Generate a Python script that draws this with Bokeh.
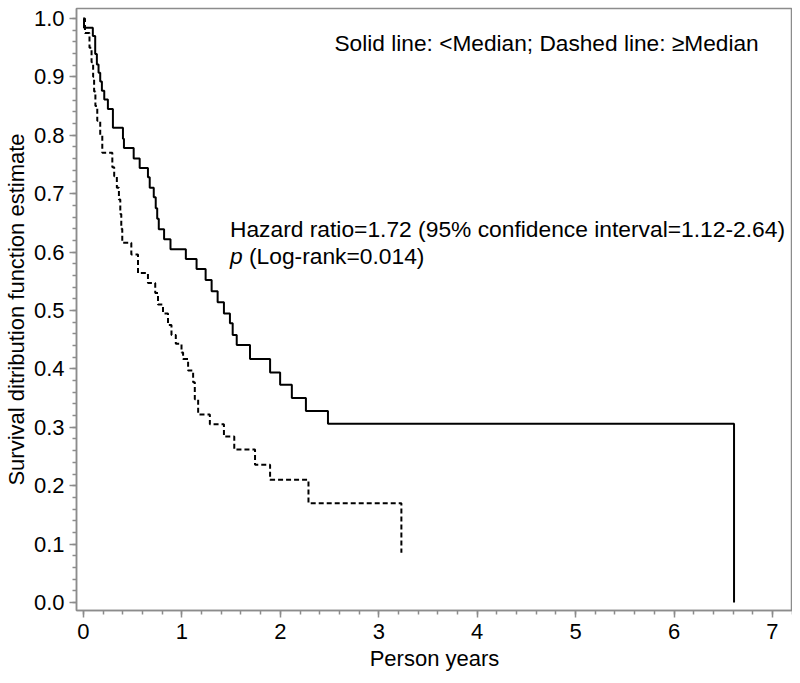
from bokeh.plotting import figure
from bokeh.models import Range1d, Label, SingleIntervalTicker, CustomJSTickFormatter
from bokeh.embed import file_html
from bokeh.resources import INLINE

# Kaplan-Meier estimates
times_lt = [0.0, 0.005, 0.095, 0.119, 0.136, 0.153, 0.170, 0.187, 0.211, 0.248,
            0.299, 0.401, 0.411, 0.510, 0.571, 0.655, 0.673, 0.714, 0.734, 0.749,
            0.765, 0.819, 0.884, 1.040, 1.149, 1.241, 1.302, 1.363, 1.427, 1.488,
            1.516, 1.557, 1.692, 1.896, 1.998, 2.117, 2.260, 2.484, 6.61]
surv_lt = [1.0, 0.984, 0.970, 0.939, 0.921, 0.907, 0.892, 0.876, 0.861, 0.845,
           0.813, 0.794, 0.778, 0.760, 0.744, 0.728, 0.710, 0.694, 0.675, 0.657,
           0.639, 0.622, 0.605, 0.588, 0.571, 0.552, 0.533, 0.514, 0.495, 0.478,
           0.458, 0.441, 0.417, 0.394, 0.373, 0.350, 0.328, 0.306, 0.0]

times_ge = [0.0, 0.015, 0.061, 0.082, 0.098, 0.108, 0.121, 0.140, 0.170, 0.191,
            0.293, 0.312, 0.339, 0.360, 0.374, 0.384, 0.394, 0.486, 0.554, 0.655,
            0.729, 0.757, 0.808, 0.859, 0.894, 0.938, 0.996, 1.012, 1.063, 1.114,
            1.131, 1.165, 1.284, 1.427, 1.532, 1.743, 1.896, 2.286, 3.23]
surv_ge = [1.0, 0.975, 0.95, 0.925, 0.90, 0.875, 0.85, 0.825, 0.80, 0.77,
           0.745, 0.73, 0.71, 0.69, 0.665, 0.64, 0.616, 0.596, 0.564, 0.547,
           0.53, 0.51, 0.495, 0.475, 0.458, 0.443, 0.428, 0.417, 0.397, 0.377,
           0.348, 0.322, 0.305, 0.284, 0.262, 0.236, 0.21, 0.17, 0.085]

x_label = "Person years"
y_label = "Survival ditribution function estimate"
legend_note = "Solid line: <Median; Dashed line: \u2265Median"
hr_note = "Hazard ratio=1.72 (95% confidence interval=1.12-2.64)"
p_note_italic = "p"
p_note_rest = "(Log-rank=0.014)"

FONT = "Liberation Sans"
GRAY = "#8c8c8c"

p = figure(width=792, height=673, output_backend="svg", toolbar_location=None,
           x_range=Range1d(-0.071, 7.204), y_range=Range1d(-0.0137, 1.017),
           min_border_left=68, min_border_right=0, min_border_top=8, min_border_bottom=51)

p.step(times_lt, surv_lt, mode="after", line_color="black", line_width=2)
p.step(times_ge, surv_ge, mode="after", line_color="black", line_width=2, line_dash="5 3")

p.xgrid.visible = False
p.ygrid.visible = False
p.outline_line_color = GRAY
p.outline_line_width = 1.5
p.background_fill_color = "white"
p.border_fill_color = "white"

p.xaxis.ticker = SingleIntervalTicker(interval=1, num_minor_ticks=5)
p.yaxis.ticker = SingleIntervalTicker(interval=0.1, num_minor_ticks=5)
p.yaxis.formatter = CustomJSTickFormatter(code="return tick.toFixed(1);")

for ax in (p.xaxis[0], p.yaxis[0]):
    ax.axis_line_color = GRAY
    ax.axis_line_width = 1.5
    ax.major_tick_line_color = GRAY
    ax.minor_tick_line_color = GRAY
    ax.major_tick_line_width = 1.5
    ax.minor_tick_line_width = 1.5
    ax.major_tick_in = 0
    ax.major_tick_out = 7
    ax.minor_tick_in = 0
    ax.minor_tick_out = 4
    ax.major_label_text_font = FONT
    ax.major_label_text_font_size = "22px"
    ax.major_label_text_color = "black"
    ax.axis_label_text_font = FONT
    ax.axis_label_text_font_size = "22px"
    ax.axis_label_text_font_style = "normal"
    ax.axis_label_text_color = "black"

p.xaxis.axis_label = x_label
p.yaxis.axis_label = y_label
p.xaxis.axis_label_standoff = 4
p.yaxis.axis_label_standoff = 2
p.xaxis.major_label_standoff = 6
p.yaxis.major_label_standoff = 5

common = dict(text_font=FONT, text_color="black", text_baseline="middle")
p.add_layout(Label(x=2.55, y=0.958, text=legend_note, text_font_size="22.7px", **common))
p.add_layout(Label(x=1.488, y=0.64, text=hr_note, text_font_size="22.8px", **common))
p.add_layout(Label(x=1.488, y=0.594, text=p_note_italic, text_font_style="italic",
                   text_font_size="22.8px", **common))
p.add_layout(Label(x=1.488, y=0.594, x_offset=19, text=p_note_rest, text_font_size="22.8px", **common))

open("out.html", "w").write(file_html(p, INLINE))
